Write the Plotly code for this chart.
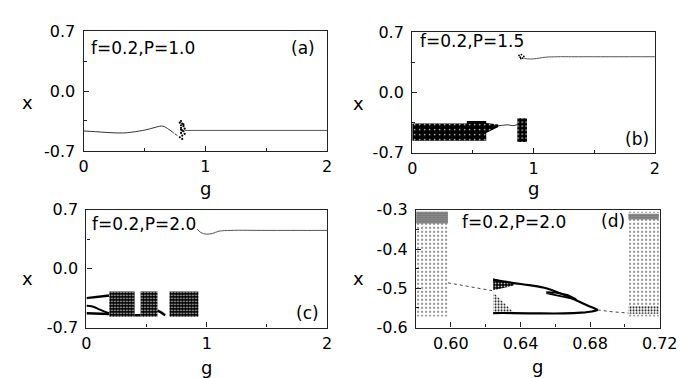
import plotly.graph_objects as go

W, H = 690, 378
FONT = "DejaVu Sans"

# ---------------- data ----------------
# panel (a)  f=0.2, P=1.0
a_line_g = [0, 0.1, 0.2, 0.33, 0.46, 0.55, 0.6, 0.65, 0.70, 0.74]
a_line_x = [-0.467, -0.475, -0.485, -0.49, -0.467, -0.44, -0.42, -0.41, -0.448, -0.49]
a_tail_g = [0.75, 0.76, 0.77]
a_tail_x = [-0.50, -0.51, -0.52]
a_clu_g = [0.79, 0.80, 0.81, 0.80, 0.82, 0.81, 0.83, 0.80, 0.82, 0.81, 0.79, 0.83, 0.81, 0.80, 0.82, 0.80]
a_clu_x = [-0.37, -0.40, -0.38, -0.43, -0.41, -0.46, -0.44, -0.49, -0.47, -0.52, -0.54, -0.50, -0.56, -0.45, -0.39, -0.35]
a_flat_g = [0.83, 1.0, 1.5, 2.0]
a_flat_x = [-0.46, -0.46, -0.46, -0.46]

# panel (b)  f=0.2, P=1.5
b_ch1_g = [0, 0.45, 0.45, 0.61, 0.61, 0.71, 0.71, 0.61, 0.61, 0, 0]
b_ch1_x = [-0.36, -0.36, -0.33, -0.33, -0.355, -0.37, -0.40, -0.47, -0.56, -0.56, -0.36]
b_ch2_g = [0.866, 0.946, 0.946, 0.866, 0.866]
b_ch2_x = [-0.30, -0.30, -0.575, -0.575, -0.30]
b_mid_g = [0.71, 0.75, 0.79, 0.83, 0.87]
b_mid_x = [-0.385, -0.38, -0.375, -0.385, -0.37]
b_dots_g = [0.88, 0.89, 0.90, 0.91, 0.92, 0.895]
b_dots_x = [0.43, 0.41, 0.44, 0.40, 0.42, 0.395]
b_up_g = [0.92, 0.95, 1.0, 1.05, 1.1, 1.2, 1.4, 2.0]
b_up_x = [0.40, 0.39, 0.39, 0.40, 0.41, 0.415, 0.415, 0.415]

# panel (c)  f=0.2, P=2.0
c_top_g = [0, 0.1, 0.19]
c_top_x = [-0.35, -0.335, -0.32]
c_mid_g = [0, 0.05, 0.1, 0.15, 0.19]
c_mid_x = [-0.44, -0.45, -0.48, -0.51, -0.53]
c_bot_g = [0, 0.1, 0.19]
c_bot_x = [-0.53, -0.535, -0.54]
c_blocks_g = [[0.19, 0.40], [0.45, 0.59], [0.69, 0.93]]
c_blocks_x = [-0.27, -0.57]
c_link1_g = [0.40, 0.45]
c_link1_x = [-0.555, -0.555]
c_link2_g = [0.59, 0.62, 0.65, 0.68]
c_link2_x = [-0.50, -0.52, -0.55, -0.57]
c_up_g = [0.92, 0.95, 1.0, 1.05, 1.1, 1.2, 1.5, 2.0]
c_up_x = [0.47, 0.43, 0.41, 0.42, 0.445, 0.455, 0.455, 0.455]

# panel (d)  f=0.2, P=2.0 (zoom)
d_left_g = [0.58, 0.5983]
d_right_g = [0.702, 0.7195]
d_band_x = [-0.305, -0.572]
d_ltop_x = [-0.305, -0.335]
d_rtop_x = [-0.31, -0.325]
d_rbot_x = [-0.545, -0.565]
d_line1_g = [0.5983, 0.6237]
d_line1_x = [-0.486, -0.506]
d_upper_g = [0.6243, 0.635, 0.645, 0.653, 0.66, 0.668, 0.676, 0.6844]
d_upper_x = [-0.478, -0.486, -0.492, -0.498, -0.508, -0.522, -0.539, -0.555]
d_lower_g = [0.6243, 0.635, 0.65, 0.665, 0.675, 0.681, 0.6844]
d_lower_x = [-0.563, -0.563, -0.564, -0.564, -0.562, -0.559, -0.555]
d_loop_g = [0.6548, 0.66, 0.667, 0.672, 0.667, 0.66, 0.6548]
d_loop_x = [-0.510, -0.511, -0.517, -0.528, -0.524, -0.517, -0.512]
d_line2_g = [0.6844, 0.693, 0.702]
d_line2_x = [-0.555, -0.560, -0.563]
d_fan_g = [0.6243, 0.636, 0.636, 0.6243, 0.6243]
d_fan_x = [-0.475, -0.487, -0.493, -0.505, -0.475]
d_tri_g = [0.6243, 0.6243, 0.637, 0.6243]
d_tri_x = [-0.51, -0.565, -0.565, -0.51]

labels = ["f=0.2,P=1.0", "f=0.2,P=1.5", "f=0.2,P=2.0", "f=0.2,P=2.0"]
tags = ["(a)", "(b)", "(c)", "(d)"]

# ---------------- figure ----------------
fig = go.Figure()

def ax(n):
    return ("x" if n == 1 else f"x{n}"), ("y" if n == 1 else f"y{n}")

def line(n, g, x, width=1.0, color="#333", dash="solid", shape="linear"):
    xa, ya = ax(n)
    fig.add_trace(go.Scatter(x=g, y=x, mode="lines", xaxis=xa, yaxis=ya,
                             line=dict(color=color, width=width, dash=dash, shape=shape,
                                       smoothing=1.0 if shape == "spline" else None),
                             showlegend=False, hoverinfo="skip"))

def pts(n, g, x, size=2.5):
    xa, ya = ax(n)
    fig.add_trace(go.Scatter(x=g, y=x, mode="markers", xaxis=xa, yaxis=ya,
                             marker=dict(color="black", size=size),
                             showlegend=False, hoverinfo="skip"))

def cloud(n, g, x, fg, bg, size, solidity):
    xa, ya = ax(n)
    fig.add_trace(go.Scatter(x=g, y=x, mode="lines", xaxis=xa, yaxis=ya,
                             fill="toself", line=dict(width=0, color=bg),
                             fillcolor=bg,
                             fillpattern=dict(shape=".", fgcolor=fg, bgcolor=bg,
                                              size=size, solidity=solidity,
                                              fillmode="replace"),
                             showlegend=False, hoverinfo="skip"))

def rect(g, x):
    return [g[0], g[1], g[1], g[0], g[0]], [x[0], x[0], x[1], x[1], x[0]]

# (a)
line(1, a_line_g, a_line_x, 1.0, shape="spline")
line(1, a_tail_g, a_tail_x, 1.0, dash="dot")
pts(1, a_clu_g, a_clu_x, 2.2)
line(1, a_flat_g, a_flat_x, 1.0, color="#555")

# (b)
cloud(2, b_ch1_g, b_ch1_x, "white", "black", 5, 0.07)
cloud(2, b_ch2_g, b_ch2_x, "white", "black", 4, 0.12)
line(2, b_mid_g, b_mid_x, 1.0, shape="spline")
pts(2, b_dots_g, b_dots_x, 1.8)
line(2, b_up_g, b_up_x, 1.0, color="#555", shape="spline")

# (c)
line(3, c_top_g, c_top_x, 2.5, color="black")
line(3, c_mid_g, c_mid_x, 2.0, color="black", shape="spline")
line(3, c_bot_g, c_bot_x, 2.5, color="black")
for blk in c_blocks_g:
    gg, xx = rect(blk, c_blocks_x)
    cloud(3, gg, xx, "white", "black", 3, 0.22)
line(3, c_link1_g, c_link1_x, 2.5, color="black")
line(3, c_link2_g, c_link2_x, 2.5, color="black", dash="dash")
line(3, c_up_g, c_up_x, 1.0, color="#555", shape="spline")

# (d)
for blk, top in ((d_left_g, d_ltop_x), (d_right_g, d_rtop_x)):
    gg, xx = rect(blk, d_band_x)
    cloud(4, gg, xx, "black", "white", 4, 0.12)
    gg, xx = rect(blk, top)
    cloud(4, gg, xx, "black", "white", 2, 0.55)
gg, xx = rect(d_right_g, d_rbot_x)
cloud(4, gg, xx, "black", "white", 3, 0.3)
cloud(4, d_fan_g, d_fan_x, "white", "black", 3, 0.25)
cloud(4, d_tri_g, d_tri_x, "black", "white", 3, 0.3)
line(4, d_line1_g, d_line1_x, 1.0, color="#444", dash="dot")
line(4, d_upper_g, d_upper_x, 2.2, color="black", shape="spline")
line(4, d_lower_g, d_lower_x, 2.2, color="black", shape="spline")
line(4, d_loop_g, d_loop_x, 1.8, color="black")
line(4, d_line2_g, d_line2_x, 1.0, color="#444", dash="dot")

# ---------------- axes ----------------
boxes = {1: (73, 325, 15, 141), 2: (413, 664, 16, 143),
         3: (76, 325, 203, 327), 4: (417, 669, 203, 327)}

axis_common = dict(showline=True, linecolor="#222", linewidth=1.4, mirror=True,
                   ticks="inside", ticklen=5, tickcolor="#222", tickwidth=1,
                   showgrid=False, zeroline=False,
                   tickfont=dict(family=FONT, size=16, color="black"))

for n, (x0, x1, y0, y1) in boxes.items():
    xa_name = "xaxis" if n == 1 else f"xaxis{n}"
    ya_name = "yaxis" if n == 1 else f"yaxis{n}"
    xa, ya = ax(n)
    if n < 4:
        xr, xt, xtt, xminor = [0, 2], [0, 1, 2], ["0", "1", "2"], 0.5
        yr, yt, ytt, yminor = [-0.7, 0.7], [-0.7, 0.0, 0.7], ["-0.7", "0.0", "0.7"], 0.35
        x0m, y0m = 0, -0.7
    else:
        xr, xt, xtt, xminor = [0.58, 0.72], [0.60, 0.64, 0.68, 0.72], ["0.60", "0.64", "0.68", "0.72"], 0.02
        yr, yt, ytt, yminor = [-0.6, -0.3], [-0.6, -0.5, -0.4, -0.3], ["-0.6", "-0.5", "-0.4", "-0.3"], 0.05
        x0m, y0m = 0.58, -0.6
    fig.layout[xa_name] = dict(axis_common, domain=[x0 / W, x1 / W], range=xr,
                               tickmode="array", tickvals=xt, ticktext=xtt,
                               minor=dict(ticks="inside", ticklen=3, tick0=x0m, dtick=xminor,
                                          tickcolor="#222"),
                               anchor=ya, ticklabelstandoff=1)
    fig.layout[ya_name] = dict(axis_common, domain=[1 - y1 / H, 1 - y0 / H], range=yr,
                               tickmode="array", tickvals=yt, ticktext=ytt,
                               minor=dict(ticks="inside", ticklen=3, tick0=y0m, dtick=yminor,
                                          tickcolor="#222"),
                               anchor=xa, ticklabelstandoff=4)

# ---------------- annotations ----------------
ann = []
def add_text(px, py, text, size, xanchor="center"):
    ann.append(dict(x=px / W, y=1 - py / H, xref="paper", yref="paper", text=text,
                    showarrow=False, xanchor=xanchor, yanchor="middle",
                    font=dict(family=FONT, size=size, color="black")))

# panel labels
add_text(79, 33, labels[0], 17, "left")
add_text(419, 25, labels[1], 17, "left")
add_text(80, 218, labels[2], 17, "left")
add_text(462, 216, labels[3], 17, "left")
add_text(300, 33, tags[0], 17)
add_text(645, 128, tags[1], 17)
add_text(305, 312, tags[2], 17)
add_text(621, 215, tags[3], 17)
# axis titles
for px, py in ((15, 90), (357, 91), (15, 275), (357, 275)):
    add_text(px, py, "x", 18)
for px, py in ((199, 181), (538, 181), (200, 369), (543, 368)):
    add_text(px, py, "g", 18)

fig.update_layout(width=W, height=H, margin=dict(l=0, r=0, t=0, b=0),
                  paper_bgcolor="white", plot_bgcolor="white", annotations=ann)

fig.write_html("out.html")
